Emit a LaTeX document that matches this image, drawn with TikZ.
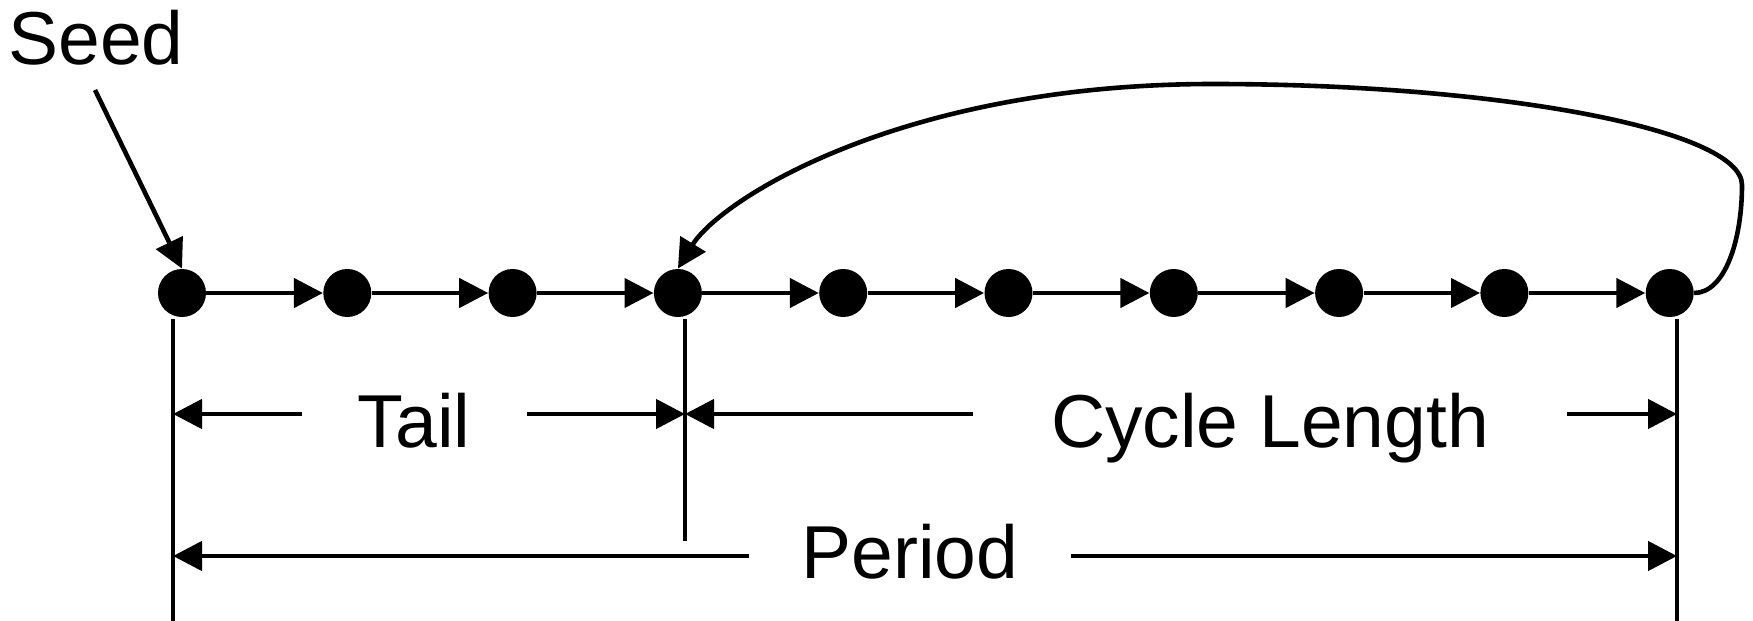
\documentclass[tikz,border=0pt]{standalone}
\usepackage{fontspec}
\setmainfont{Liberation Sans}
\usetikzlibrary{arrows.meta}
\begin{document}
\begin{tikzpicture}[x=0.5pt, y=-0.5pt,
    dot/.style={circle, fill, minimum size=24pt, inner sep=0pt},
    wire/.style={line width=2.3pt},
    arr/.style={wire, -{Triangle[length=14.5pt, width=14.5pt]}},
    lab/.style={anchor=base, font=\fontsize{37.5}{45}\selectfont, inner sep=0pt}]
    \useasboundingbox (0,0) rectangle (1753,621);
    % the sequence
    \foreach \i in {0,...,9}
        \node [dot] (n\i) at (182+165.3*\i, 293) {};
    \foreach \i [count=\j] in {0,...,8}
        \draw [arr] (n\i) -- (n\j);
    % seed
    \node [lab, anchor=base west] (seed) at (8,64) {Seed};
    \coordinate (seedtail) at (95,90);
    \draw [arr] (seedtail) -- (n0.north);
    % loop back
    \draw [arr] (n9.east) .. controls (1725,293) and (1742,240) .. (1742,185)
        .. controls (1742,130) and (1500,84) .. (1213,84)
        .. controls (900,84) and (720,200) .. (n3.north);
    % marker lines
    \coordinate (a0) at (173,319);  \coordinate (b0) at (173,621);
    \coordinate (a3) at (685,319);  \coordinate (b3) at (685,541);
    \coordinate (a9) at (1677,319); \coordinate (b9) at (1677,621);
    \draw [wire] (a0) -- (b0);
    \draw [wire] (a3) -- (b3);
    \draw [wire] (a9) -- (b9);
    % tail
    \node [lab] (tail) at (414,447) {Tail};
    \coordinate (tl) at (302,414); \coordinate (tr) at (527,414);
    \draw [arr] (tl) -- (a0 |- tl);
    \draw [arr] (tr) -- (a3 |- tr);
    % cycle length
    \node [lab] (cycle) at (1270,447) {Cycle Length};
    \coordinate (cl) at (973,414); \coordinate (cr) at (1567,414);
    \draw [arr] (cl) -- (a3 |- cl);
    \draw [arr] (cr) -- (a9 |- cr);
    % period
    \node [lab] (period) at (910,578) {Period};
    \coordinate (pl) at (749,556); \coordinate (pr) at (1071,556);
    \draw [arr] (pl) -- (a0 |- pl);
    \draw [arr] (pr) -- (a9 |- pr);
\end{tikzpicture}
\end{document}
